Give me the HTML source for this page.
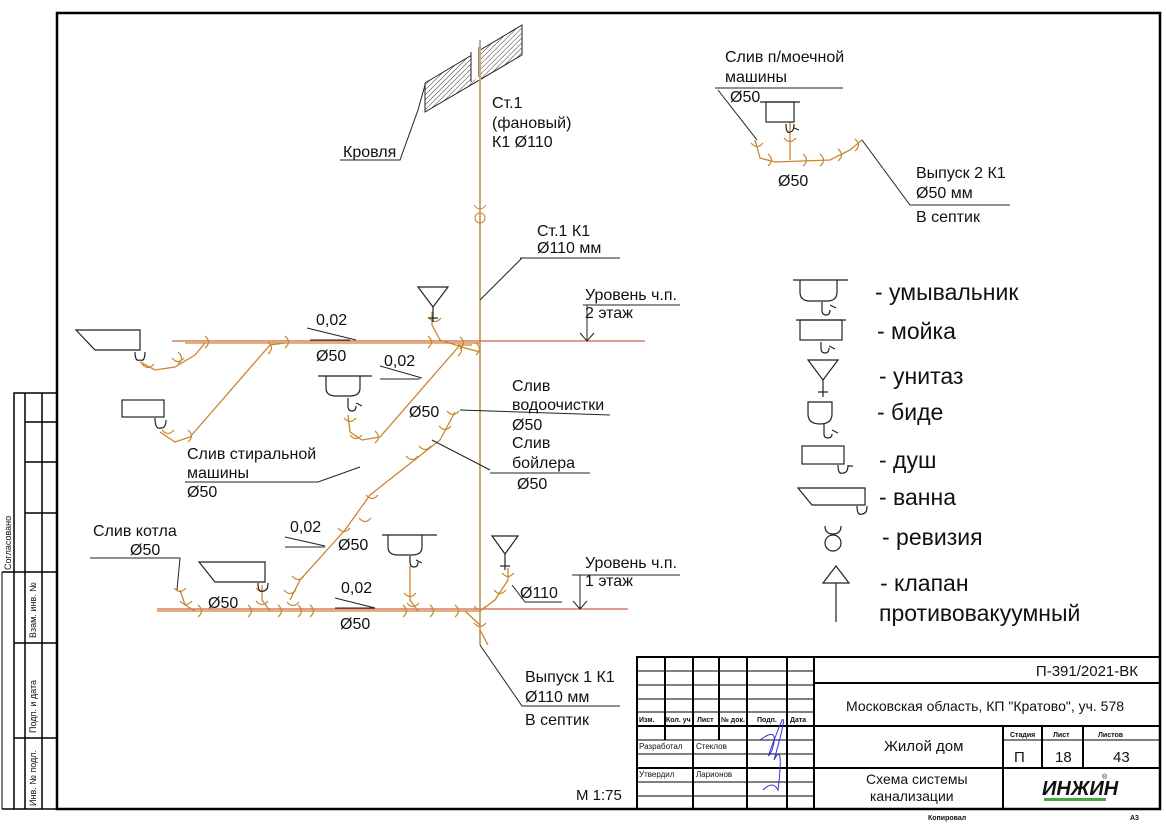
<!DOCTYPE html>
<html><head><meta charset="utf-8"><style>
html,body{margin:0;padding:0;background:#fff}
svg{display:block}
text{font-family:"Liberation Sans",sans-serif;fill:#111}
</style></head><body>
<svg width="1166" height="824" viewBox="0 0 1166 824" xmlns="http://www.w3.org/2000/svg">
<defs>
<pattern id="h" width="3.5" height="3.5" patternUnits="userSpaceOnUse" patternTransform="rotate(45)"><line x1="0" y1="0" x2="0" y2="3.5" stroke="#222" stroke-width="0.9"/></pattern>
<path id="f" d="M-2,-6 Q5,0 -2,6" fill="none" stroke="#c8862f" stroke-width="1.2"/>
<path id="g" d="M-6,-2 Q0,5 6,-2" fill="none" stroke="#c8862f" stroke-width="1.2"/>
</defs>
<rect width="1166" height="824" fill="#fff"/>
<rect x="57" y="13" width="1103" height="796" fill="none" stroke="#000" stroke-width="2.5"/>
<g stroke="#000" stroke-width="1.5" fill="none">
<rect x="14" y="393" width="43" height="416"/>
<line x1="2" y1="572" x2="2" y2="809" stroke-width="1"/>
<line x1="14" y1="572" x2="57" y2="572"/>
<line x1="25" y1="393" x2="25" y2="809"/>
<line x1="42" y1="393" x2="42" y2="809"/>
<line x1="25" y1="422" x2="57" y2="422"/><line x1="25" y1="462" x2="57" y2="462"/><line x1="25" y1="513" x2="57" y2="513"/>
<line x1="14" y1="643" x2="57" y2="643"/><line x1="14" y1="738" x2="57" y2="738"/>
<line x1="2" y1="809" x2="14" y2="809"/><line x1="2" y1="572" x2="14" y2="572"/>
</g>
<g font-size="9">
<text transform="translate(11,570) rotate(-90)">Согласовано</text>
<text transform="translate(36,638) rotate(-90)">Взам. инв. №</text>
<text transform="translate(36,733) rotate(-90)">Подп. и дата</text>
<text transform="translate(36,806) rotate(-90)">Инв. № подл.</text>
</g>
<g stroke="#000" stroke-width="1" fill="none">
<rect x="637" y="657" width="523" height="152" stroke-width="2"/>
<line x1="814" y1="657" x2="814" y2="809" stroke-width="2"/>
<g stroke-width="2"><line x1="665" y1="657" x2="665" y2="740"/><line x1="693" y1="657" x2="693" y2="809"/><line x1="719" y1="657" x2="719" y2="740"/><line x1="747" y1="657" x2="747" y2="809"/><line x1="787" y1="657" x2="787" y2="809"/></g>
<line x1="637" y1="671" x2="814" y2="671"/><line x1="637" y1="685" x2="814" y2="685"/><line x1="637" y1="699" x2="814" y2="699"/><line x1="637" y1="712" x2="814" y2="712"/>
<line x1="637" y1="726" x2="1160" y2="726" stroke-width="2"/>
<line x1="637" y1="740" x2="814" y2="740"/><line x1="637" y1="754" x2="814" y2="754"/><line x1="637" y1="768" x2="1160" y2="768" stroke-width="2"/><line x1="637" y1="782" x2="814" y2="782"/><line x1="637" y1="796" x2="814" y2="796"/>
<line x1="814" y1="683" x2="1160" y2="683" stroke-width="2"/>
<line x1="1003" y1="726" x2="1003" y2="809" stroke-width="2"/><line x1="1042" y1="726" x2="1042" y2="768" stroke-width="2"/><line x1="1083" y1="726" x2="1083" y2="768" stroke-width="2"/>
<line x1="1003" y1="740" x2="1160" y2="740"/>
</g>
<text x="1138" y="676" font-size="15" text-anchor="end">П-391/2021-ВК</text>
<text x="846" y="711" font-size="14">Московская область, КП "Кратово", уч. 578</text>
<text x="884" y="751" font-size="15">Жилой дом</text>
<text x="866" y="784" font-size="14">Схема системы</text>
<text x="870" y="801" font-size="14">канализации</text>
<g font-size="7" font-weight="bold"><text x="639" y="722">Изм.</text><text x="666" y="722">Кол. уч</text><text x="697" y="722">Лист</text><text x="721" y="722">№ док.</text><text x="757" y="722">Подп.</text><text x="790" y="722">Дата</text>
<text x="1010" y="737">Стадия</text><text x="1053" y="737">Лист</text><text x="1098" y="737">Листов</text>
<text x="928" y="820">Копировал</text><text x="1130" y="820">А3</text></g>
<g font-size="8"><text x="639" y="749">Разработал</text><text x="696" y="749">Стеклов</text><text x="639" y="777">Утвердил</text><text x="696" y="777">Ларионов</text></g>
<text x="1014" y="762" font-size="15">П</text><text x="1055" y="762" font-size="15">18</text><text x="1113" y="762" font-size="15">43</text>
<text x="1042" y="795" font-size="20" font-weight="bold" font-style="italic" fill="#111">ИНЖИН</text>
<text x="1102" y="779" font-size="7">®</text>
<rect x="1044" y="798" width="62" height="3" fill="#4a4"/>
<path d="M760,740 q20,-15 12,10 q-10,20 10,-30 q5,-5 -8,40 q10,-20 4,30 q-5,-10 -15,0" fill="none" stroke="#33c" stroke-width="1"/>
<text x="576" y="800" font-size="15">М 1:75</text>

<!-- roof -->
<polygon points="425,83 522,25 522,55 425,112" fill="url(#h)" stroke="#222"/>
<polygon points="471,52 479,47 479,77 471,82" fill="#fff"/>
<line x1="471" y1="52" x2="471" y2="82" stroke="#222"/><line x1="479" y1="47" x2="479" y2="77" stroke="#222"/>
<polyline points="340,160 400,160 418,110 425,85" fill="none" stroke="#222"/>
<text x="343" y="157" font-size="16">Кровля</text>

<line x1="480" y1="40" x2="480" y2="645" stroke="#c9a87a" stroke-width="2"/>
<circle cx="480" cy="218" r="5" fill="none" stroke="#c8862f"/><path d="M474,205 q6,8 12,0" fill="none" stroke="#c8862f"/>
<line x1="172" y1="341" x2="645" y2="341" stroke="#d0604a" stroke-width="1.3"/>
<line x1="157" y1="609" x2="628" y2="609" stroke="#d0604a" stroke-width="1.3"/>
<g stroke="#c8862f" stroke-width="1.3" fill="none">
<line x1="185" y1="343" x2="480" y2="343"/>
<line x1="157" y1="611" x2="480" y2="611"/>
<polyline points="140,362 155,370 175,367 195,355 205,343"/>
<polyline points="160,432 175,442 190,437 270,345 285,343"/>
<polyline points="348,415 350,432 362,440 380,437 460,345 472,345"/>
<polyline points="455,412 440,440 370,495 345,530 300,580 290,600"/>
<polyline points="432,312 432,325 440,340 465,348 480,352"/>
<polyline points="180,590 185,605 195,611"/>
<polyline points="262,585 262,600 270,611"/>
<polyline points="410,566 410,600 418,611"/>
<polyline points="508,568 508,580 495,600 480,611"/>
<polyline points="465,611 480,625"/>
<line x1="480" y1="630" x2="488" y2="645"/>
<polyline points="790,122 790,160"/>
<polyline points="755,140 760,158 775,162 830,160 850,150 862,140"/>
</g>
<g>
<use href="#f" x="207" y="342"/><use href="#f" x="287" y="342"/><use href="#f" x="430" y="342"/><use href="#f" x="462" y="343"/><use href="#f" x="478" y="349"/>
<use href="#g" x="435" y="320"/><use href="#g" x="148" y="366"/><use href="#f" x="180" y="358"/><use href="#g" x="178" y="360"/>
<use href="#f" x="190" y="436"/><use href="#g" x="168" y="432"/><use href="#f" x="270" y="348"/>
<use href="#g" x="350" y="420"/><use href="#g" x="356" y="437"/><use href="#f" x="377" y="437"/><use href="#f" x="460" y="350"/>
<use href="#g" x="453" y="413"/><use href="#g" x="445" y="428"/><use href="#g" x="425" y="448"/><use href="#g" x="412" y="458"/><use href="#g" x="372" y="497"/><use href="#g" x="365" y="520"/><use href="#g" x="344" y="530"/><use href="#g" x="298" y="578"/>
<use href="#f" x="200" y="611"/><use href="#f" x="250" y="611"/><use href="#f" x="280" y="611"/><use href="#f" x="300" y="611"/><use href="#f" x="312" y="611"/><use href="#f" x="405" y="611"/><use href="#f" x="432" y="611"/><use href="#f" x="457" y="611"/>
<use href="#g" x="180" y="590"/><use href="#g" x="186" y="603"/><use href="#g" x="262" y="590"/><use href="#g" x="262" y="603"/><use href="#g" x="290" y="592"/><use href="#g" x="293" y="604"/><use href="#g" x="410" y="595"/><use href="#g" x="413" y="605"/>
<use href="#g" x="508" y="575"/><use href="#g" x="500" y="592"/><use href="#g" x="480" y="608"/><use href="#g" x="480" y="625"/>
<use href="#g" x="790" y="140"/><use href="#g" x="757" y="145"/><use href="#f" x="770" y="160"/><use href="#f" x="805" y="160"/><use href="#f" x="822" y="160"/><use href="#f" x="840" y="155"/><use href="#f" x="857" y="145"/>
</g>

<g stroke="#222" stroke-width="1.2" fill="none">
<path d="M76,330 L140,330 L140,350 L95,350 Z"/><path d="M135,352 q0,10 5,8 q5,2 5,-8"/>
<rect x="122" y="400" width="42" height="17"/><path d="M155,418 q0,12 6,10 q5,0 5,-8"/>
<line x1="318" y1="376" x2="372" y2="376"/><path d="M326,376 v12 q0,8 10,8 h14 q10,0 10,-8 v-12"/><path d="M348,398 v8 q0,5 4,5 q4,0 4,-5 M356,403 l6,3"/>
<path d="M418,287 L448,287 L433,307 Z"/><line x1="433" y1="307" x2="433" y2="322"/><line x1="428" y1="318" x2="438" y2="318"/>
<path d="M199,562 L265,562 L265,582 L215,582 Z"/><path d="M258,583 q0,10 5,8 q5,0 5,-8"/>
<line x1="382" y1="535" x2="437" y2="535"/><path d="M388,535 v12 q0,8 10,8 h14 q10,0 10,-8 v-12"/><path d="M410,556 v6 q0,5 4,5 q4,0 4,-5 M416,560 l6,3"/>
<path d="M492,536 L518,536 L505,554 Z"/><line x1="505" y1="554" x2="505" y2="570"/><line x1="500" y1="566" x2="510" y2="566"/>
<line x1="760" y1="102" x2="800" y2="102"/><rect x="766" y="102" width="28" height="20"/><path d="M786,124 q0,10 4,8 q4,0 4,-8 M794,128 l5,2"/>
<line x1="793" y1="280" x2="848" y2="280"/><path d="M800,280 v12 q0,9 10,9 h17 q10,0 10,-9 v-12"/><path d="M822,302 v8 q0,5 4,5 q4,0 4,-5 M830,305 l6,3"/>
<line x1="796" y1="320" x2="846" y2="320"/><rect x="800" y="320" width="42" height="20"/><path d="M821,342 v6 q0,5 4,5 q4,0 4,-5 M829,346 l6,3"/>
<path d="M808,360 L838,360 L823,380 Z"/><line x1="823" y1="380" x2="823" y2="397"/><line x1="818" y1="392" x2="828" y2="392"/>
<path d="M808,402 v12 q0,10 12,10 q12,0 12,-10 v-12 Z"/><path d="M824,424 v10 q0,4 4,4 q4,0 4,-4 M832,430 l6,3"/>
<rect x="802" y="446" width="42" height="18"/><path d="M838,465 q0,10 5,8 q5,0 5,-8 M848,466 l5,0"/>
<path d="M798,488 L865,488 L865,505 L812,505 Z"/><path d="M857,506 q0,10 5,8 q5,0 5,-8"/>
<circle cx="833" cy="543" r="8"/><path d="M825,526 q0,8 8,8 q8,0 8,-8"/>
<path d="M823,583 L836,566 L849,583 Z"/><line x1="836" y1="583" x2="836" y2="622"/>
</g>
<g font-size="23">
<text x="875" y="300">- умывальник</text><text x="877" y="339">- мойка</text><text x="879" y="384">- унитаз</text><text x="877" y="420">- биде</text><text x="879" y="468">- душ</text><text x="879" y="505">- ванна</text><text x="882" y="545">- ревизия</text><text x="880" y="591">- клапан</text><text x="879" y="621">противовакуумный</text>
</g>

<g stroke="#222" stroke-width="1" fill="none">
<line x1="480" y1="300" x2="522" y2="258"/><line x1="520" y1="258" x2="620" y2="258"/>
<line x1="583" y1="305" x2="680" y2="305"/><line x1="587" y1="305" x2="587" y2="341"/><polyline points="580,333 587,341 594,333"/>
<line x1="572" y1="575" x2="680" y2="575"/><line x1="580" y1="575" x2="580" y2="609"/><polyline points="573,601 580,609 587,601"/>
<line x1="307" y1="328" x2="356" y2="340"/><line x1="310" y1="340" x2="350" y2="340"/>
<line x1="380" y1="366" x2="422" y2="378"/><line x1="380" y1="379" x2="420" y2="379"/>
<line x1="285" y1="537" x2="325" y2="546"/><line x1="285" y1="547" x2="325" y2="547"/>
<line x1="335" y1="598" x2="375" y2="608"/><line x1="335" y1="608" x2="375" y2="608"/>
<line x1="460" y1="410" x2="610" y2="415"/>
<line x1="432" y1="440" x2="490" y2="470"/><line x1="490" y1="473" x2="590" y2="473"/>
<polyline points="185,482 318,482 360,467"/>
<polyline points="90,558 180,558 177,590"/>
<polyline points="512,585 525,602 562,602"/>
<polyline points="480,645 522,706 620,706"/>
<polyline points="715,88 843,88"/><line x1="718" y1="90" x2="757" y2="140"/>
<polyline points="862,140 910,205 1010,205"/>
</g>
<g font-size="16">
<text x="492" y="108">Ст.1</text><text x="492" y="128">(фановый)</text><text x="492" y="147">К1 Ø110</text>
<text x="537" y="236">Ст.1 К1</text><text x="537" y="253">Ø110 мм</text>
<text x="585" y="300">Уровень ч.п.</text><text x="585" y="318">2 этаж</text>
<text x="316" y="325">0,02</text><text x="316" y="361">Ø50</text>
<text x="384" y="366">0,02</text><text x="409" y="417">Ø50</text>
<text x="512" y="391">Слив</text><text x="512" y="410">водоочистки</text><text x="512" y="430">Ø50</text>
<text x="512" y="448">Слив</text><text x="512" y="468">бойлера</text><text x="517" y="489">Ø50</text>
<text x="187" y="459">Слив стиральной</text><text x="187" y="478">машины</text><text x="187" y="497">Ø50</text>
<text x="93" y="536">Слив котла</text><text x="130" y="555">Ø50</text>
<text x="290" y="532">0,02</text><text x="338" y="550">Ø50</text>
<text x="208" y="608">Ø50</text><text x="341" y="593">0,02</text><text x="340" y="629">Ø50</text>
<text x="520" y="598">Ø110</text>
<text x="585" y="568">Уровень ч.п.</text><text x="585" y="586">1 этаж</text>
<text x="525" y="682">Выпуск 1 К1</text><text x="525" y="702">Ø110 мм</text><text x="525" y="725">В септик</text>
<text x="725" y="62">Слив п/моечной</text><text x="725" y="82">машины</text><text x="730" y="102">Ø50</text>
<text x="778" y="186">Ø50</text>
<text x="916" y="178">Выпуск 2 К1</text><text x="916" y="198">Ø50 мм</text><text x="916" y="222">В септик</text>
</g>
</svg>
</body></html>
